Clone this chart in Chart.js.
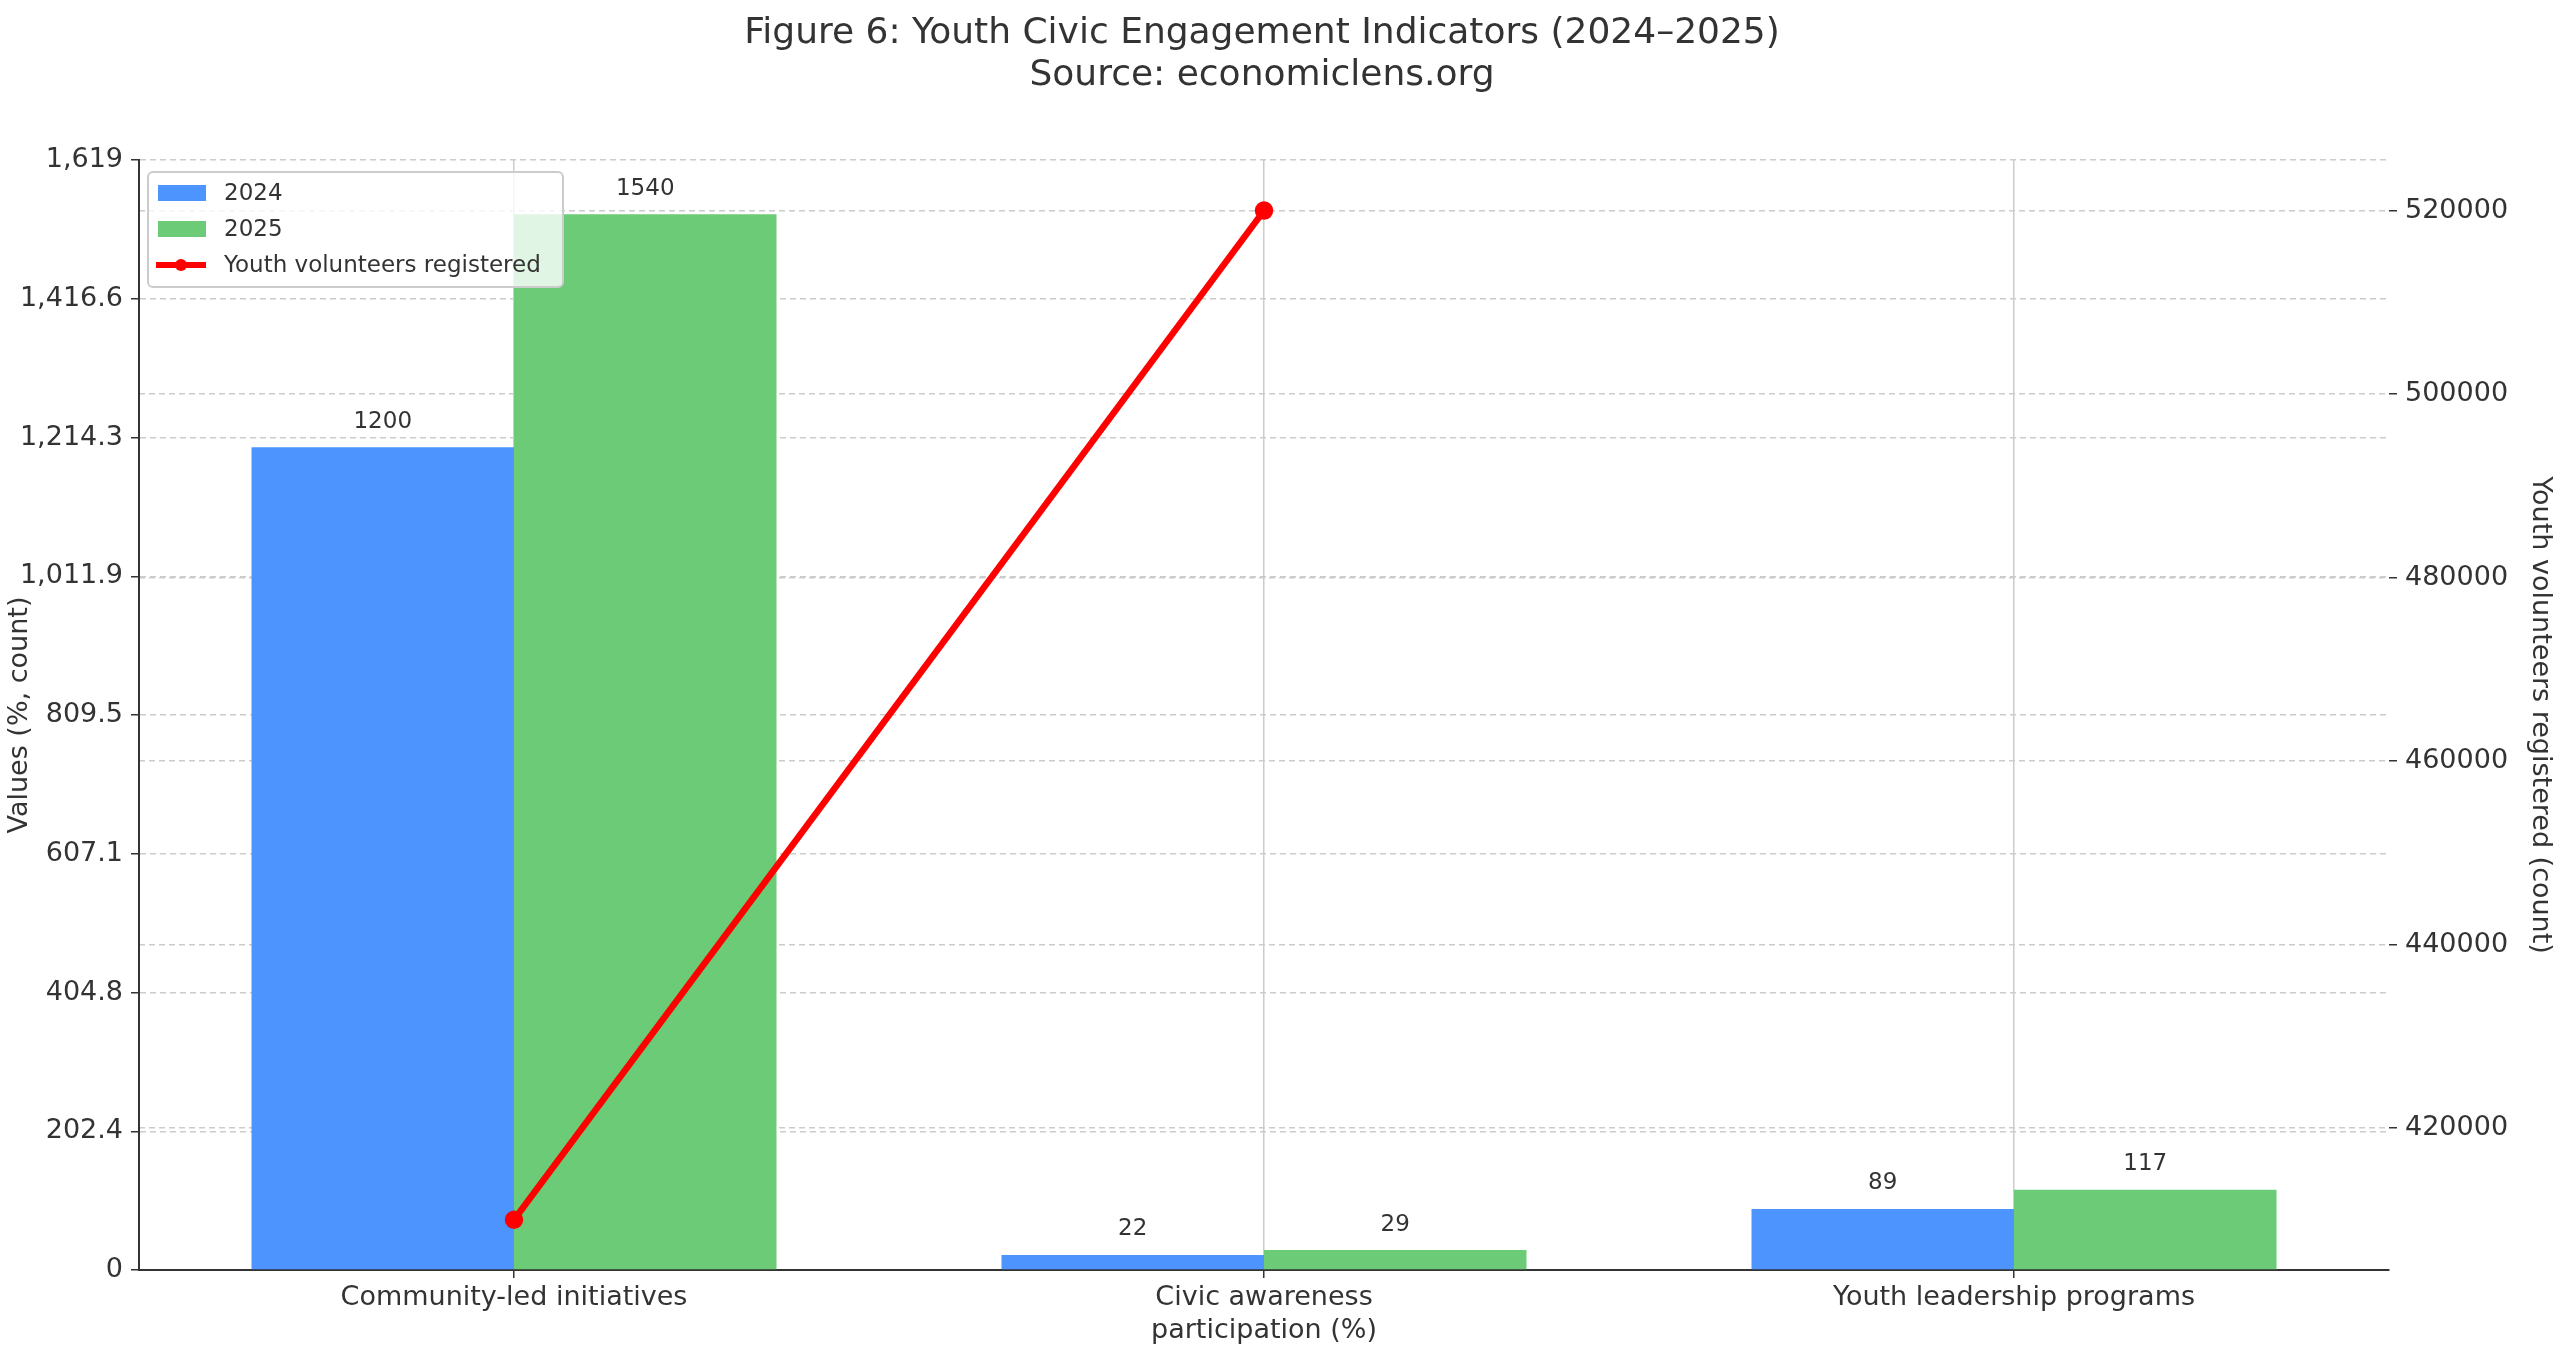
<!DOCTYPE html>
<html><head><meta charset="utf-8">
<script src="https://cdn.jsdelivr.net/npm/chart.js@4"></script>
<style>html,body{margin:0;padding:0;background:#fff}#wrap{width:2560px;height:1357px}</style>
</head><body><div id="wrap"><canvas id="c" width="2560" height="1357"></canvas></div>
<script>
const categories = [["Community-led initiatives"], ["Civic awareness", "participation (%)"], ["Youth leadership programs"]];
const values2024 = [1200, 22, 89];
const values2025 = [1540, 29, 117];
const volunteers = [410000, 520000, null];
const titleLines = ["Figure 6: Youth Civic Engagement Indicators (2024–2025)", "Source: economiclens.org"];

const FONT = "'DejaVu Sans', sans-serif";
const TXT = '#333';

const titlePlugin = {
  id: 'ttl',
  afterDraw(chart) {
    const ctx = chart.ctx;
    ctx.save();
    ctx.fillStyle = TXT;
    ctx.font = "36px " + FONT;
    ctx.textAlign = 'center';
    ctx.textBaseline = 'middle';
    ctx.fillText(titleLines[0], 1262, 34);
    ctx.fillText(titleLines[1], 1262, 76);
    // bar value labels
    ctx.font = "23px " + FONT;
    ctx.textBaseline = 'bottom';
    [0, 1].forEach(di => {
      const meta = chart.getDatasetMeta(di);
      meta.data.forEach((b, i) => {
        ctx.fillText(String(chart.data.datasets[di].data[i]), b.x, b.y - 14);
      });
    });
    // legend
    const x0 = 148, y0 = 172, w = 415, h = 115;
    ctx.fillStyle = 'rgba(255,255,255,0.8)';
    ctx.strokeStyle = '#cccccc';
    ctx.lineWidth = 2;
    ctx.beginPath(); ctx.roundRect(x0, y0, w, h, 5); ctx.fill(); ctx.stroke();
    ctx.font = "23px " + FONT;
    ctx.textAlign = 'left';
    ctx.textBaseline = 'middle';
    const ds = chart.data.datasets;
    const rows = [ds[0], ds[1], ds[2]];
    rows.forEach((d, i) => {
      const cy = y0 + 21 + i * 36;
      if (d.type === 'line') {
        ctx.strokeStyle = d.borderColor; ctx.lineWidth = 6;
        ctx.beginPath(); ctx.moveTo(x0 + 8, cy); ctx.lineTo(x0 + 58, cy); ctx.stroke();
        ctx.fillStyle = d.borderColor;
        ctx.beginPath(); ctx.arc(x0 + 33, cy, 6, 0, Math.PI * 2); ctx.fill();
      } else {
        ctx.fillStyle = d.backgroundColor;
        ctx.fillRect(x0 + 10, cy - 8, 48, 16);
      }
      ctx.fillStyle = TXT;
      ctx.fillText(d.label, x0 + 76, cy + 1);
    });
    ctx.restore();
  }
};

new Chart(document.getElementById('c'), {
  data: {
    labels: categories,
    datasets: [
      { type: 'bar', label: '2024', data: values2024, backgroundColor: '#4d94ff', yAxisID: 'y', categoryPercentage: 0.7, barPercentage: 1.0, order: 2 },
      { type: 'bar', label: '2025', data: values2025, backgroundColor: '#6ccb77', yAxisID: 'y', categoryPercentage: 0.7, barPercentage: 1.0, order: 2 },
      { type: 'line', label: 'Youth volunteers registered', data: volunteers, borderColor: '#ff0000', backgroundColor: '#ff0000', borderWidth: 6.5, pointRadius: 6, pointBackgroundColor: '#ff0000', yAxisID: 'y1', order: 1, spanGaps: false }
    ]
  },
  options: {
    responsive: false, animation: false, devicePixelRatio: 1,
    layout: { padding: { top: 160, left: 0, right: 0, bottom: 0 } },
    plugins: { legend: { display: false }, title: { display: false }, tooltip: { enabled: false } },
    scales: {
      x: {
        offset: true,
        grid: { offset: false, color: '#cccccc', lineWidth: 1.5, tickLength: 8, tickColor: '#333', borderDash: [6, 4] },
        border: { color: '#333', width: 2 },
        ticks: { color: TXT, font: { size: 27, family: FONT }, padding: 4 },
        afterFit(s) { s.height = 87; }
      },
      y: {
        position: 'left', min: 0, max: 1619,
        ticks: { stepSize: 200, color: TXT, font: { size: 27, family: FONT }, padding: 8 },
        grid: { color: '#cccccc', lineWidth: 1.5, tickLength: 8, tickColor: '#333' },
        border: { color: '#333', width: 2, dash: [6, 4] },
        title: { display: true, text: 'Values (%, count)', color: TXT, font: { size: 27, family: FONT } },
        afterFit(s) { s.width = 139; }
      },
      y1: {
        position: 'right', min: 404520, max: 525516,
        ticks: { stepSize: 20000, color: TXT, font: { size: 27, family: FONT }, padding: 8, callback: v => (v % 20000 === 0 ? String(v) : '') },
        afterBuildTicks(s) { s.ticks = [420000, 440000, 460000, 480000, 500000, 520000].map(v => ({ value: v })); },
        grid: { color: '#cccccc', lineWidth: 1.5, tickLength: 8, tickColor: '#333' },
        border: { display: false, dash: [6, 4] },
        title: { display: true, text: 'Youth volunteers registered (count)', color: TXT, font: { size: 27, family: FONT } },
        afterFit(s) { s.width = 171; }
      }
    }
  },
  plugins: [titlePlugin]
});
</script></body></html>
